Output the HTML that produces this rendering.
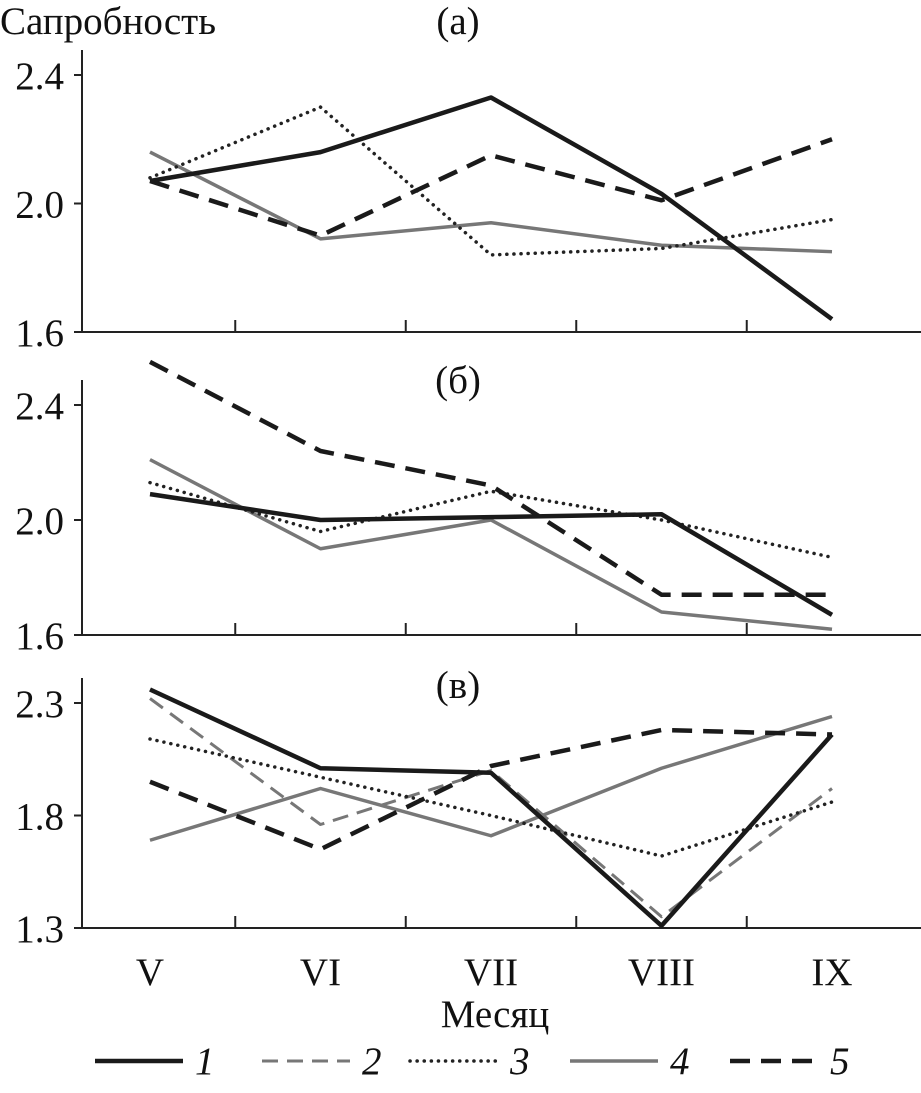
<!DOCTYPE html>
<html><head><meta charset="utf-8"><style>
body{margin:0;background:#fff;}
svg text{font-family:"Liberation Serif",serif;fill:#111;}
</style></head><body>
<svg id="chart" width="921" height="1088" viewBox="0 0 921 1088" xmlns="http://www.w3.org/2000/svg"></svg>
<script>
const categories=["V","VI","VII","VIII","IX"];
const panelA_s1=[2.07,2.16,2.33,2.03,1.64];
const panelA_s3=[2.08,2.30,1.84,1.86,1.95];
const panelA_s4=[2.16,1.89,1.94,1.87,1.85];
const panelA_s5=[2.07,1.90,2.15,2.01,2.20];
const panelB_s1=[2.09,2.00,2.01,2.02,1.67];
const panelB_s3=[2.13,1.96,2.10,2.00,1.87];
const panelB_s4=[2.21,1.90,2.00,1.68,1.62];
const panelB_s5=[2.55,2.24,2.12,1.74,1.74];
const panelC_s1=[2.36,2.01,1.99,1.31,2.16];
const panelC_s2=[2.32,1.76,2.00,1.35,1.92];
const panelC_s3=[2.14,1.97,1.80,1.62,1.86];
const panelC_s4=[1.69,1.92,1.71,2.01,2.24];
const panelC_s5=[1.95,1.65,2.02,2.18,2.16];
const ticksA=["1.6","2.0","2.4"], ticksB=["1.6","2.0","2.4"], ticksC=["1.3","1.8","2.3"];
const legendLabels=["1","2","3","4","5"];

const NS="http://www.w3.org/2000/svg";
const svg=document.getElementById('chart');
function mk(t,a,p){const e=document.createElementNS(NS,t);for(const k in a)e.setAttribute(k,a[k]);(p||svg).appendChild(e);return e;}
const styles={
 s1:{stroke:"#1a1a1a",w:4.5,dash:"",cap:"butt"},
 s2:{stroke:"#777",w:3,dash:"16 9",cap:"butt"},
 s3:{stroke:"#222",w:3.5,dash:"0.1 7",cap:"round"},
 s4:{stroke:"#777",w:3.5,dash:"",cap:"butt"},
 s5:{stroke:"#1a1a1a",w:4.5,dash:"20 11",cap:"butt"}
};
const xAxis=i=>150+i*170.5;
const axL=82, axR=921;
const FS=39;
function panel(name,top,bottom,ticks,series){
  const lo=+ticks[0], hi=+ticks[ticks.length-1];
  const y=v=>bottom-(v-lo)/(hi-lo)*(bottom-top);
  const g=mk('g',{});
  
  
  const ax=mk('path',{d:`M${axL},${top-25}V${bottom}H${axR}`,stroke:"#222","stroke-width":2,fill:"none"},g);
  
  ticks.forEach(t=>{
    const tk=mk('line',{x1:axL-8,x2:axL,y1:y(+t),y2:y(+t),stroke:"#222","stroke-width":2},g);
    
    const tx=mk('text',{x:axL-18,y:y(+t)+14,"text-anchor":"end","font-size":FS},g);tx.textContent=t;
    
  });
  for(let i=0;i<4;i++){
    const xx=(xAxis(i)+xAxis(i+1))/2;
    const tk=mk('line',{x1:xx,x2:xx,y1:bottom,y2:bottom-12,stroke:"#222","stroke-width":2},g);
    
  }
  for(const k in series){
    const s=styles[k];
    const p=mk('polyline',{points:series[k].map((v,i)=>xAxis(i)+","+y(v)).join(" "),fill:"none",stroke:s.stroke,"stroke-width":s.w,"stroke-dasharray":s.dash,"stroke-linecap":s.cap,"stroke-linejoin":"round"},g);
    
  }
}
panel('panel-a',75,332,ticksA,{s4:panelA_s4,s3:panelA_s3,s5:panelA_s5,s1:panelA_s1});
panel('panel-b',405,635,ticksB,{s4:panelB_s4,s3:panelB_s3,s5:panelB_s5,s1:panelB_s1});
panel('panel-c',703,928,ticksC,{s4:panelC_s4,s2:panelC_s2,s3:panelC_s3,s5:panelC_s5,s1:panelC_s1});
function txt(s,x,y,size,name,anchor,style){const t=mk('text',{x:x,y:y,"font-size":size,"text-anchor":anchor||"start"});if(style)t.setAttribute('font-style',style);t.textContent=s;return t;}
txt("Сапробность",0,34,FS,'y-axis-title');
txt("(а)",458,34,FS,'panel-a-label','middle');
txt("(б)",458,393,FS,'panel-b-label','middle');
txt("(в)",458,698,FS,'panel-c-label','middle');
categories.forEach((c,i)=>txt(c,xAxis(i),985,FS,'x-tick-label','middle'));
txt("Месяц",495,1027,FS,'x-axis-title','middle');
const keys=["s1","s2","s3","s4","s5"];
const legX=[95,262,410,570,730];
keys.forEach((k,i)=>{
  const x0=legX[i], s=styles[k];
  const l=mk('line',{x1:x0,x2:x0+88,y1:1061,y2:1061,stroke:s.stroke,"stroke-width":s.w,"stroke-dasharray":s.dash,"stroke-linecap":s.cap});
  
  txt(legendLabels[i],x0+100,1074,FS,'legend-label-'+(i+1),'start','italic');
});
</script>
</body></html>
